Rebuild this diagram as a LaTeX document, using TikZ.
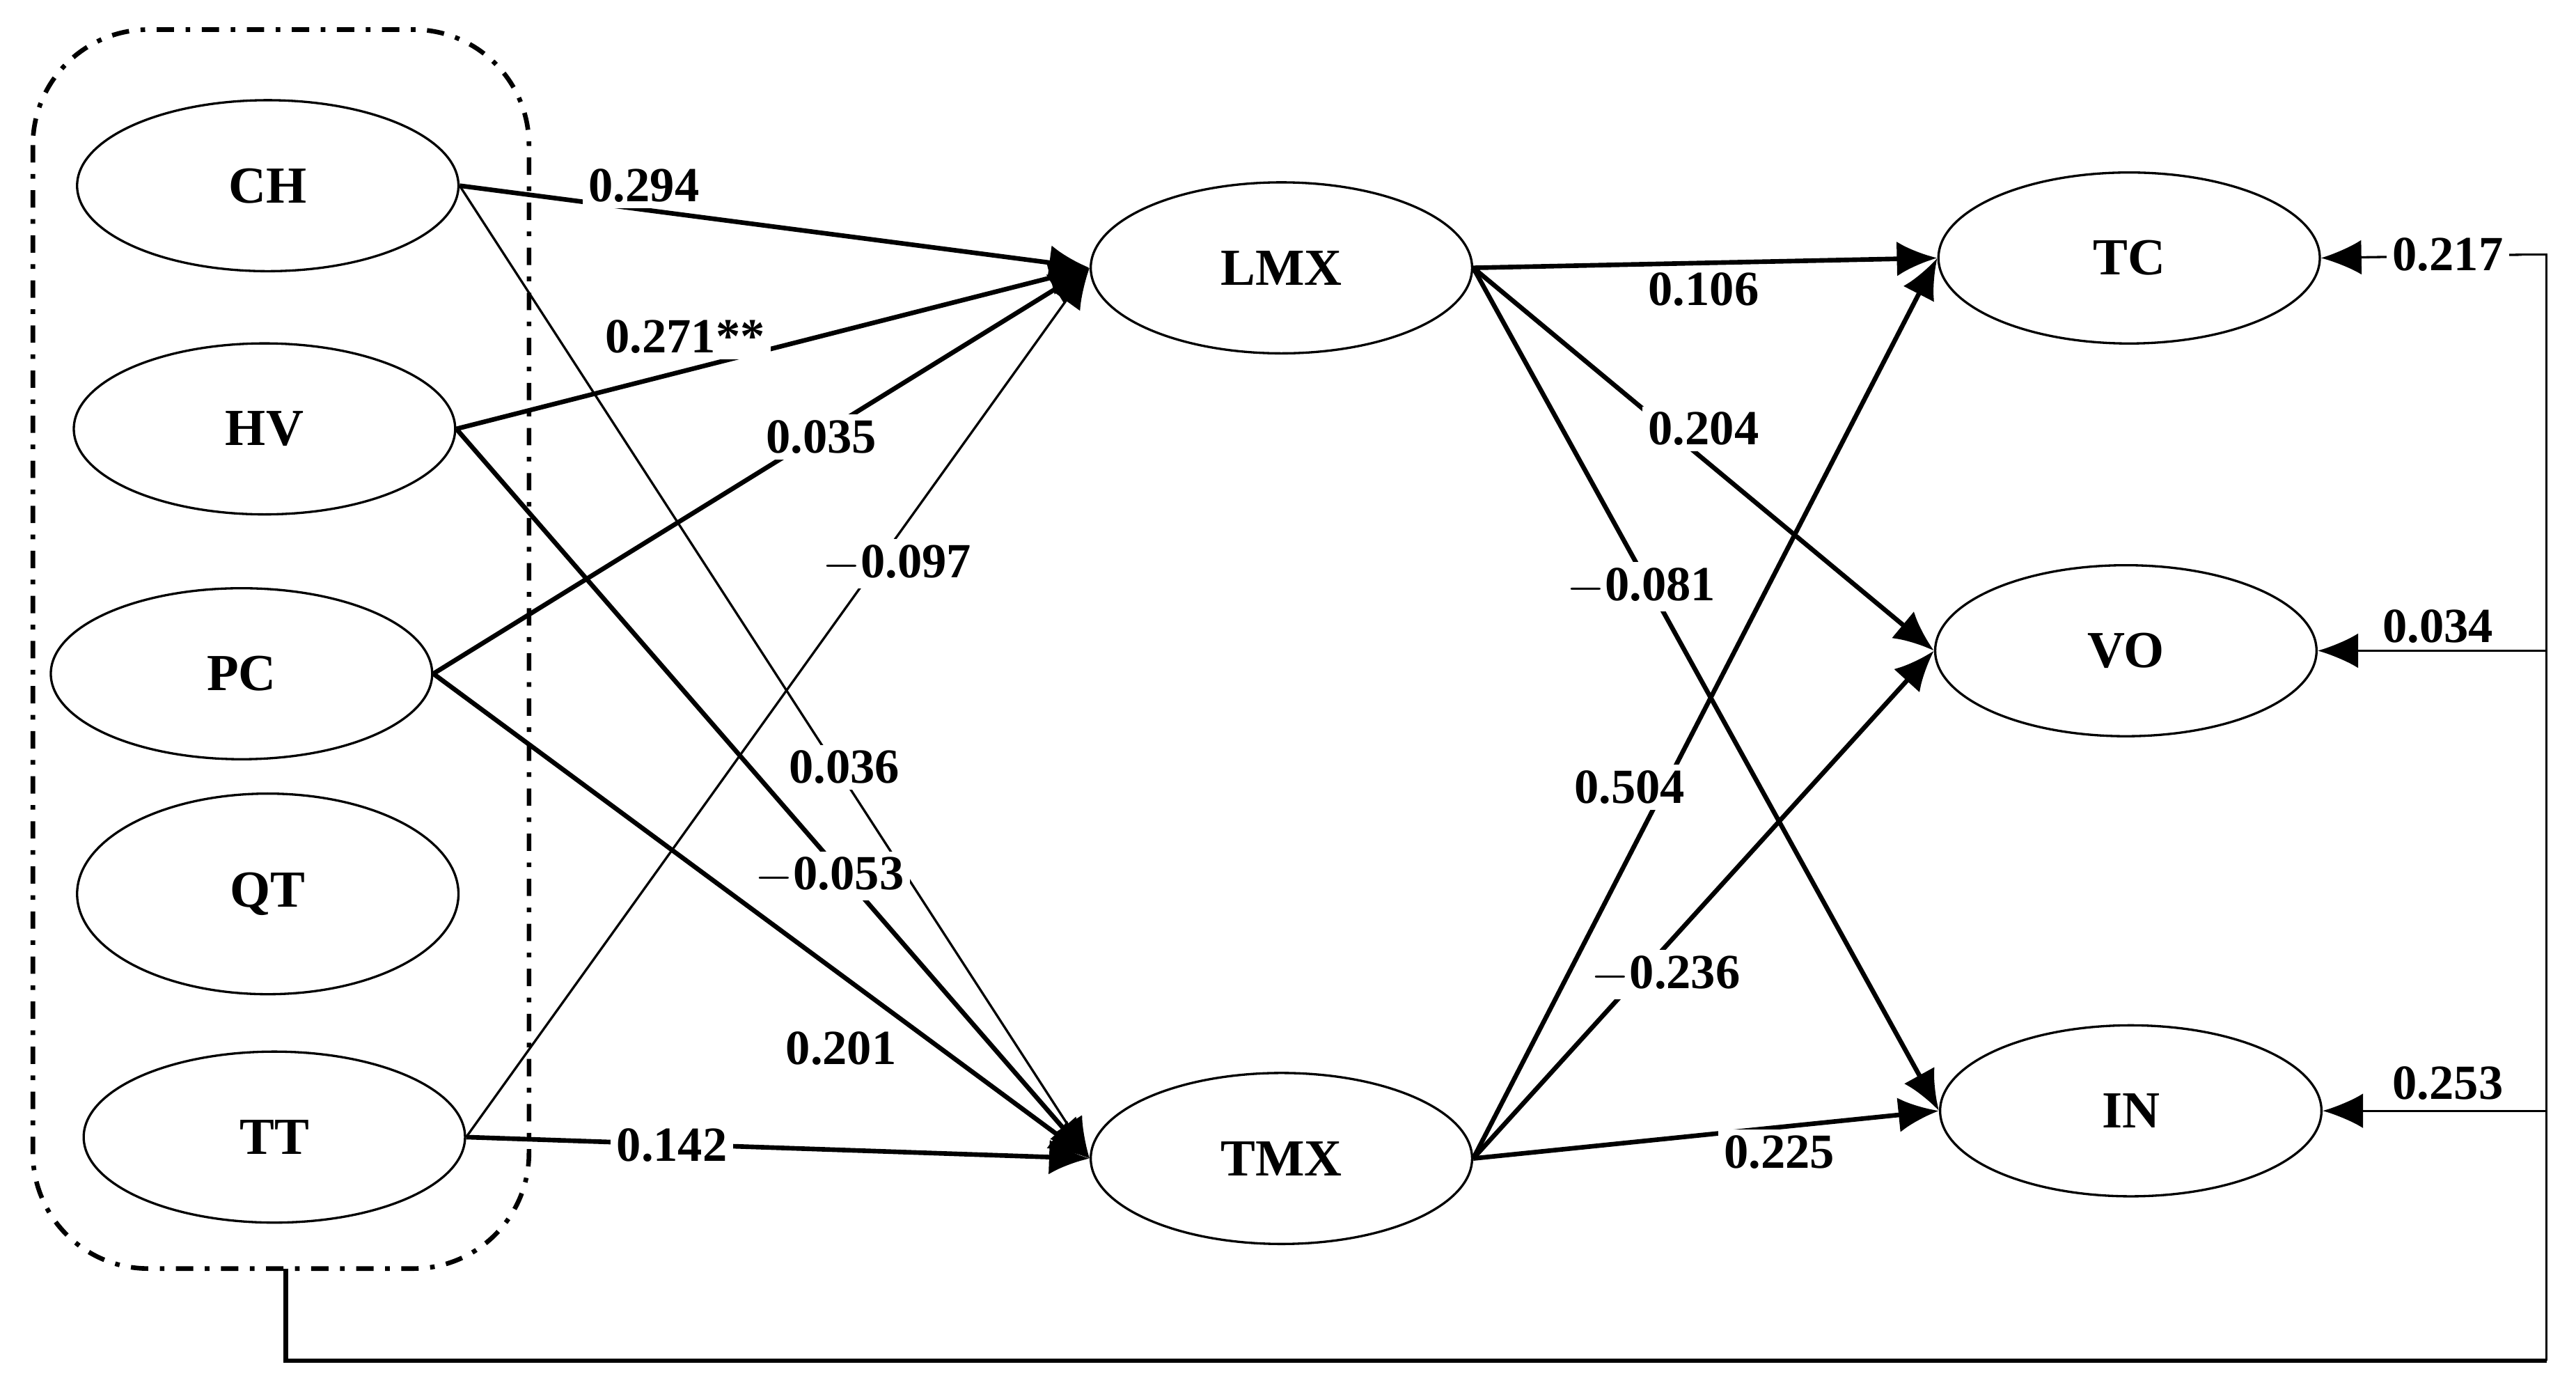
\documentclass[tikz,border=0pt]{standalone}
\usepackage{fontspec}
\setmainfont{Liberation Serif}
\usetikzlibrary{arrows.meta, positioning, shapes.geometric}
\tikzset{
  var/.style={draw, ellipse, minimum width=2.32cm, minimum height=1.04cm, font=\fontsize{9}{10}\bfseries},
  path/.style={thick, -{Latex[length=7pt,width=6pt]}},
  weak/.style={thin, -{Latex[length=7pt,width=6pt]}},
  coef/.style={fill=white, inner sep=1pt, font=\fontsize{8.5}{10}\bfseries}
}
\begin{document}
\begin{tikzpicture}[x=0.01cm,y=-0.01cm]
\useasboundingbox (0,0) rectangle (1568,851);
% control variables
\node[var] (CH) at (163,113) {CH};
\node[var] (HV) at (161,261) {HV};
\node[var] (PC) at (147,410) {PC};
\node[var, minimum height=1.22cm] (QT) at (163,544) {QT};
\node[var] (TT) at (167,692) {TT};
\draw[thick, dash dot, rounded corners=20pt] (20,18) rectangle (322,772);
% mediators and outcomes
\node[var] (LMX) at (780,163) {LMX};
\node[var] (TMX) at (780,705) {TMX};
\node[var] (TC) at (1296,157) {TC};
\node[var] (VO) at (1294,396) {VO};
\node[var] (IN) at (1297,676) {IN};

\draw[path] (CH.east) -- (LMX.west);
\draw[path] (HV.east) -- (LMX.west);
\draw[path] (PC.east) -- (LMX.west);
\draw[weak] (TT.east) -- (LMX.west);
\draw[weak] (CH.east) -- (TMX.west);
\draw[path] (HV.east) -- (TMX.west);
\draw[path] (PC.east) -- (TMX.west);
\draw[path] (TT.east) -- (TMX.west);
\draw[path] (LMX.east) -- (TC.west);
\draw[path] (LMX.east) -- (VO.west);
\draw[path] (LMX.east) -- (IN.west);
\draw[path] (TMX.east) -- (TC.west);
\draw[path] (TMX.east) -- (VO.west);
\draw[path] (TMX.east) -- (IN.west);

\node[coef] at (392,113) {0.294};
\node[coef] at (417,205) {0.271**};
\node[coef] at (500,266) {0.035};
\node[coef] at (546,343) {$-$0.097};
\node[coef] at (514,467) {0.036};
\node[coef] at (505,533) {$-$0.053};
\node[coef] at (512,638) {0.201};
\node[coef] at (409,697) {0.142};
\node[coef] at (1037,176) {0.106};
\node[coef] at (1037,261) {0.204};
\node[coef] at (999,357) {$-$0.081};
\node[coef] at (992,479) {0.504};
\node[coef] at (1014,593) {$-$0.236};
\node[coef] at (1083,701) {0.225};

% feedback from controls
\coordinate (b0) at (174,772);
\coordinate (b1) at (174,828);
\coordinate (b2) at (1550,828);
\coordinate (b3) at (1550,155);
\draw[thick] (b0) -- (b1) -- (b2);
\draw (b2) -- (b3) -- (1535,155);
\draw[path, thin] (1535,155) -- (TC.east);
\draw[path, thin] (1550,396) -- (VO.east);
\draw[path, thin] (1550,676) -- (IN.east);
\node[coef] at (1490,155) {0.217};
\node[coef, fill=none] at (1484,381) {0.034};
\node[coef, fill=none] at (1490,659) {0.253};
\end{tikzpicture}
\end{document}
